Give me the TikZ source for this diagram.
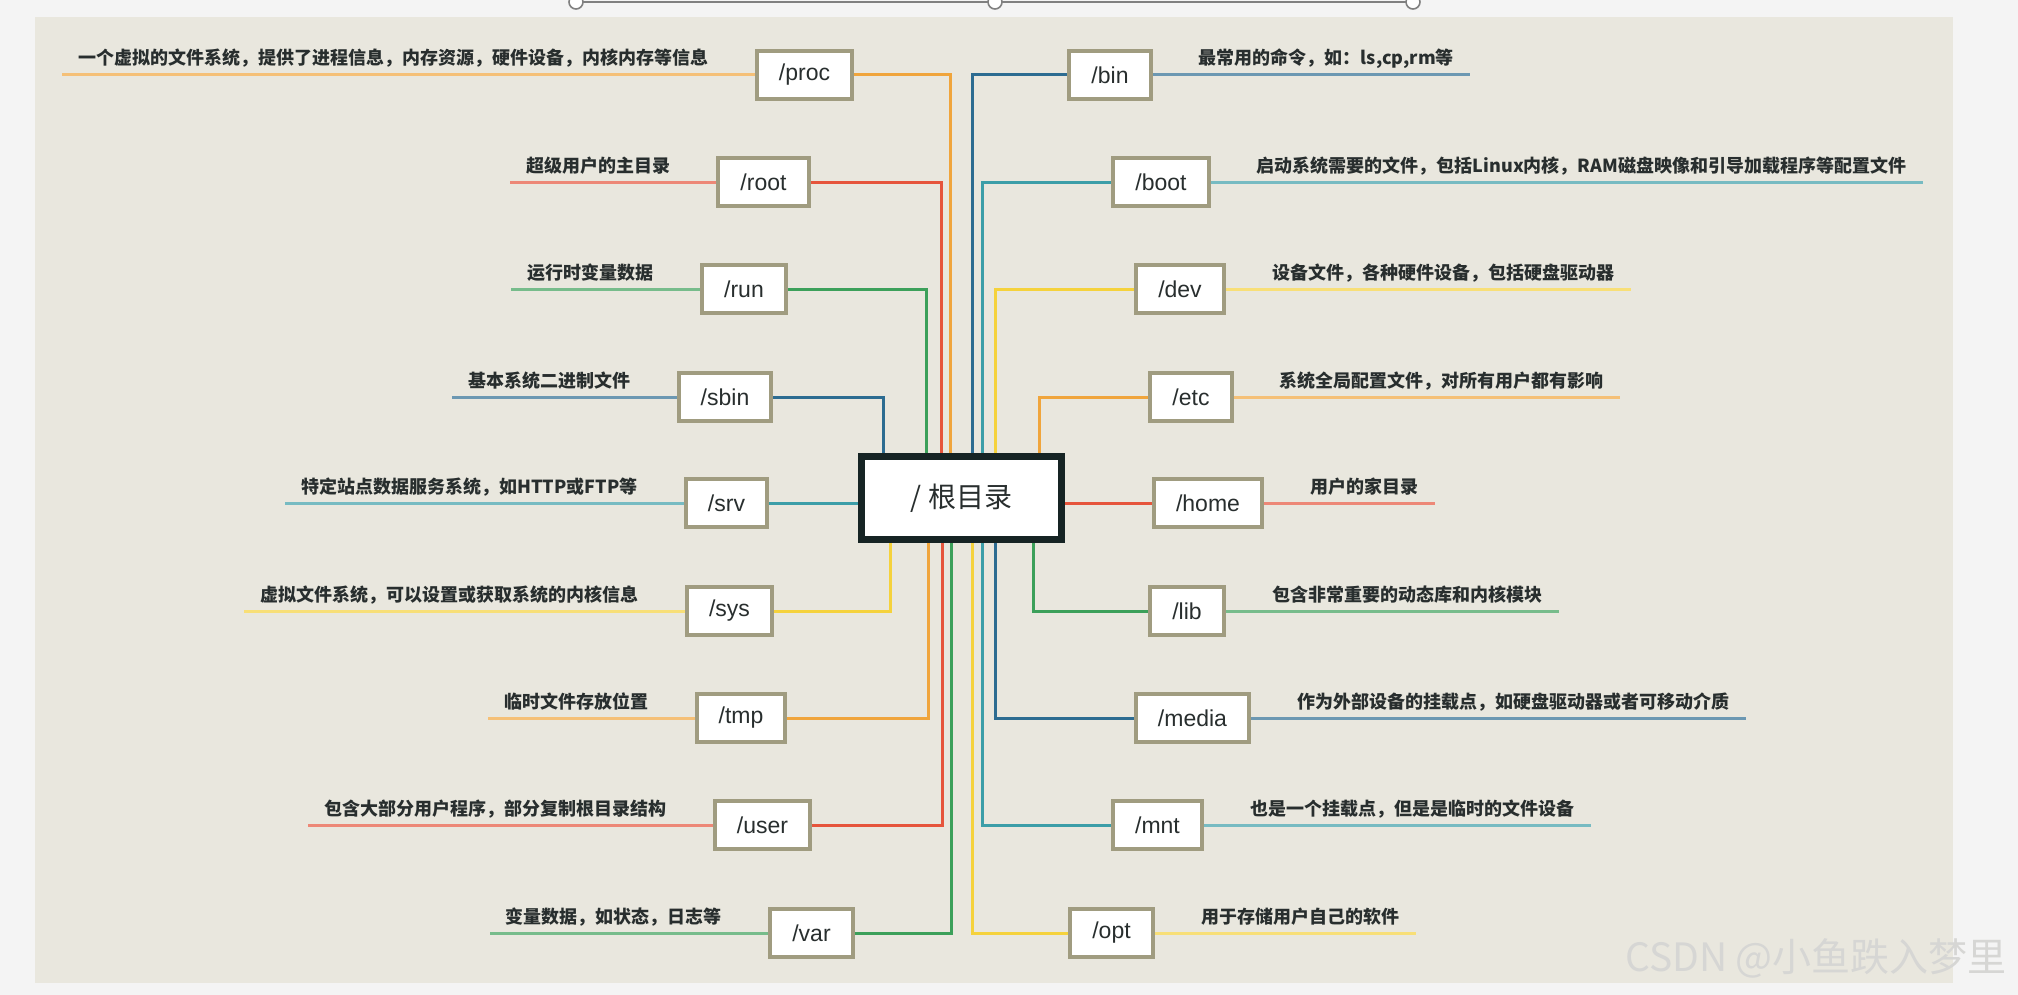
\documentclass[tikz,border=0pt]{standalone}
\usepackage{fontspec}
\setmainfont{Liberation Sans}
\newfontfamily\cjk{Noto Sans CJK SC}
\usetikzlibrary{calc}
\pgfdeclarelayer{panel}
\pgfdeclarelayer{wires}
\pgfsetlayers{panel,wires,main}
\definecolor{bgc}{RGB}{244,244,244}
\definecolor{panelc}{RGB}{233,231,222}
\definecolor{boxc}{RGB}{160,156,128}
\definecolor{rootc}{RGB}{22,36,36}
\definecolor{txtc}{RGB}{40,46,46}
\definecolor{wmc}{RGB}{214,214,212}
\definecolor{orangec}{RGB}{240,165,60}
\definecolor{redc}{RGB}{230,85,60}
\definecolor{greenc}{RGB}{60,160,90}
\definecolor{bluec}{RGB}{45,108,145}
\definecolor{tealc}{RGB}{60,158,168}
\definecolor{yellowc}{RGB}{245,210,60}

\begin{document}
\begin{tikzpicture}[x=0.5pt,y=-0.5pt,
    dir/.style={draw=boxc,line width=2pt,fill=white,minimum height=24pt,inner xsep=11pt,inner ysep=0pt,font=\fontsize{11.5}{12}\selectfont,text=txtc},
    desc/.style={inner sep=0pt,font=\cjk\bfseries\fontsize{9}{10}\selectfont,text=txtc},
    wire/.style={line width=1.5pt}]
    \useasboundingbox (0,0) rectangle (2018,995);
    \begin{pgfonlayer}{panel}
        \fill[bgc] (0,0) rectangle (2018,995);
        \fill[panelc] (35,17) rectangle (1953,983);
        \draw[gray,line width=1pt] (576,2) -- (1413,2);
        \draw[gray,fill=white,line width=0.8pt] (576,2) circle [radius=7];
        \draw[gray,fill=white,line width=0.8pt] (995,2) circle [radius=7];
        \draw[gray,fill=white,line width=0.8pt] (1413,2) circle [radius=7];
    \end{pgfonlayer}

    \node[draw=rootc,line width=3.5pt,fill=white,minimum width=100pt,minimum height=41.5pt,font=\cjk\fontsize{14}{16}\selectfont,text=txtc] (slash) at (961.5,498) {/ 根目录};

    \node[dir] (proc) at (804.5,75) {/proc};
    \node[dir] (root) at (763.5,182) {/root};
    \node[dir] (run) at (744,289) {/run};
    \node[dir] (sbin) at (725,397) {/sbin};
    \node[dir] (srv) at (726.5,503) {/srv};
    \node[dir] (sys) at (729.5,611) {/sys};
    \node[dir] (tmp) at (741,718) {/tmp};
    \node[dir] (user) at (762.5,825) {/user};
    \node[dir] (var) at (811.5,933) {/var};

    \node[dir] (bin) at (1110,75) {/bin};
    \node[dir] (boot) at (1161,182) {/boot};
    \node[dir] (dev) at (1180,289) {/dev};
    \node[dir] (etc) at (1191,397) {/etc};
    \node[dir] (home) at (1208,503) {/home};
    \node[dir] (lib) at (1187,611) {/lib};
    \node[dir] (media) at (1192.5,718) {/media};
    \node[dir] (mnt) at (1157.5,825) {/mnt};
    \node[dir] (opt) at (1111.5,933) {/opt};

    \node[desc,anchor=base east] (procd) at ($(proc.west)+(-46,-10)$) {一个虚拟的文件系统，提供了进程信息，内存资源，硬件设备，内核内存等信息};
    \node[desc,anchor=base east] (rootd) at ($(root.west)+(-46,-10)$) {超级用户的主目录};
    \node[desc,anchor=base east] (rund) at ($(run.west)+(-46,-10)$) {运行时变量数据};
    \node[desc,anchor=base east] (sbind) at ($(sbin.west)+(-46,-10)$) {基本系统二进制文件};
    \node[desc,anchor=base east] (srvd) at ($(srv.west)+(-46,-10)$) {特定站点数据服务系统，如HTTP或FTP等};
    \node[desc,anchor=base east] (sysd) at ($(sys.west)+(-46,-10)$) {虚拟文件系统，可以设置或获取系统的内核信息};
    \node[desc,anchor=base east] (tmpd) at ($(tmp.west)+(-46,-10)$) {临时文件存放位置};
    \node[desc,anchor=base east] (userd) at ($(user.west)+(-46,-10)$) {包含大部分用户程序，部分复制根目录结构};
    \node[desc,anchor=base east] (vard) at ($(var.west)+(-46,-10)$) {变量数据，如状态，日志等};

    \node[desc,anchor=base west] (bind) at ($(bin.east)+(46,-10)$) {最常用的命令，如：ls,cp,rm等};
    \node[desc,anchor=base west] (bootd) at ($(boot.east)+(46,-10)$) {启动系统需要的文件，包括Linux内核，RAM磁盘映像和引导加载程序等配置文件};
    \node[desc,anchor=base west] (devd) at ($(dev.east)+(46,-10)$) {设备文件，各种硬件设备，包括硬盘驱动器};
    \node[desc,anchor=base west] (etcd) at ($(etc.east)+(46,-10)$) {系统全局配置文件，对所有用户都有影响};
    \node[desc,anchor=base west] (homed) at ($(home.east)+(46,-10)$) {用户的家目录};
    \node[desc,anchor=base west] (libd) at ($(lib.east)+(46,-10)$) {包含非常重要的动态库和内核模块};
    \node[desc,anchor=base west] (mediad) at ($(media.east)+(46,-10)$) {作为外部设备的挂载点，如硬盘驱动器或者可移动介质};
    \node[desc,anchor=base west] (mntd) at ($(mnt.east)+(46,-10)$) {也是一个挂载点，但是是临时的文件设备};
    \node[desc,anchor=base west] (optd) at ($(opt.east)+(46,-10)$) {用于存储用户自己的软件};

    \node[font=\cjk\fontsize{19.5}{22}\selectfont,text=wmc,inner sep=0pt] (mark) at (1816,958) {CSDN @小鱼跌入梦里};

    \begin{pgfonlayer}{wires}
        \draw[wire,orangec] (proc.east) -| ($(slash.north)+(-11.5,0)$);
        \draw[wire,redc] (root.east) -| ($(slash.north)+(-20.5,0)$);
        \draw[wire,greenc] (run.east) -| ($(slash.north)+(-35.5,0)$);
        \draw[wire,bluec] (sbin.east) -| ($(slash.north)+(-78.5,0)$);
        \draw[wire,tealc] (srv.east) -- (srv.east -| slash.west);
        \draw[wire,yellowc] (sys.east) -| ($(slash.south)+(-71.5,0)$);
        \draw[wire,orangec] (tmp.east) -| ($(slash.south)+(-33.5,0)$);
        \draw[wire,redc] (user.east) -| ($(slash.south)+(-19.5,0)$);
        \draw[wire,greenc] (var.east) -| ($(slash.south)+(-10.5,0)$);

        \draw[wire,bluec] (bin.west) -| ($(slash.north)+(10.5,0)$);
        \draw[wire,tealc] (boot.west) -| ($(slash.north)+(20.5,0)$);
        \draw[wire,yellowc] (dev.west) -| ($(slash.north)+(33.5,0)$);
        \draw[wire,orangec] (etc.west) -| ($(slash.north)+(77.5,0)$);
        \draw[wire,redc] (home.west) -- (home.west -| slash.east);
        \draw[wire,greenc] (lib.west) -| ($(slash.south)+(71.5,0)$);
        \draw[wire,bluec] (media.west) -| ($(slash.south)+(33.5,0)$);
        \draw[wire,tealc] (mnt.west) -| ($(slash.south)+(20.5,0)$);
        \draw[wire,yellowc] (opt.west) -| ($(slash.south)+(10.5,0)$);

        \draw[wire,orangec!70] (proc.west) -- ($(procd.west |- proc.west)+(-16,0)$);
        \draw[wire,redc!70] (root.west) -- ($(rootd.west |- root.west)+(-16,0)$);
        \draw[wire,greenc!70] (run.west) -- ($(rund.west |- run.west)+(-16,0)$);
        \draw[wire,bluec!70] (sbin.west) -- ($(sbind.west |- sbin.west)+(-16,0)$);
        \draw[wire,tealc!70] (srv.west) -- ($(srvd.west |- srv.west)+(-16,0)$);
        \draw[wire,yellowc!70] (sys.west) -- ($(sysd.west |- sys.west)+(-16,0)$);
        \draw[wire,orangec!70] (tmp.west) -- ($(tmpd.west |- tmp.west)+(-16,0)$);
        \draw[wire,redc!70] (user.west) -- ($(userd.west |- user.west)+(-16,0)$);
        \draw[wire,greenc!70] (var.west) -- ($(vard.west |- var.west)+(-16,0)$);

        \draw[wire,bluec!70] (bin.east) -- ($(bind.east |- bin.east)+(16,0)$);
        \draw[wire,tealc!70] (boot.east) -- ($(bootd.east |- boot.east)+(16,0)$);
        \draw[wire,yellowc!70] (dev.east) -- ($(devd.east |- dev.east)+(16,0)$);
        \draw[wire,orangec!70] (etc.east) -- ($(etcd.east |- etc.east)+(16,0)$);
        \draw[wire,redc!70] (home.east) -- ($(homed.east |- home.east)+(16,0)$);
        \draw[wire,greenc!70] (lib.east) -- ($(libd.east |- lib.east)+(16,0)$);
        \draw[wire,bluec!70] (media.east) -- ($(mediad.east |- media.east)+(16,0)$);
        \draw[wire,tealc!70] (mnt.east) -- ($(mntd.east |- mnt.east)+(16,0)$);
        \draw[wire,yellowc!70] (opt.east) -- ($(optd.east |- opt.east)+(16,0)$);
    \end{pgfonlayer}
\end{tikzpicture}
\end{document}
